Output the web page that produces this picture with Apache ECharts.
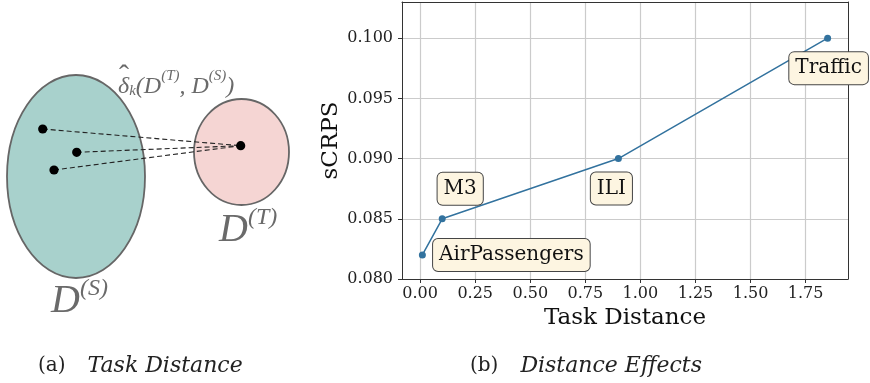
<!DOCTYPE html>
<html>
<head>
<meta charset="utf-8">
<script src="https://cdn.jsdelivr.net/npm/echarts@6/dist/echarts.min.js"></script>
<style>
html,body{margin:0;padding:0;background:#fff;}
#chart{width:870px;height:383px;}
</style>
</head>
<body>
<div id="chart"></div>
<script>
// ---- data ----
const datasets = ['AirPassengers', 'M3', 'ILI', 'Traffic'];
const taskDistance = [0.01, 0.10, 0.90, 1.85];
const scrps = [0.082, 0.085, 0.090, 0.100];
const xTicks = [0.00, 0.25, 0.50, 0.75, 1.00, 1.25, 1.50, 1.75];
const yTicks = [0.080, 0.085, 0.090, 0.095, 0.100];

// ---- layout (label box offsets from point, px) ----
const labelOffsets = [[89, 0], [18, -30], [-7, 30], [1, 30]];

const SERIF = "'DejaVu Serif', serif";
const MATH = "'Liberation Serif', 'DejaVu Serif', serif";
const lineColor = '#32729e';
const gray = '#6a6a6a';

const chart = echarts.init(document.getElementById('chart'), null, {renderer: 'canvas'});

const seriesData = datasets.map((n, i) => ({
  name: n,
  value: [taskDistance[i], scrps[i]],
  label: {
    show: true,
    position: 'inside',
    offset: labelOffsets[i],
    formatter: n,
    fontFamily: SERIF,
    fontSize: 20,
    lineHeight: 20,
    color: '#111',
    backgroundColor: '#fdf5e1',
    borderColor: '#454545',
    borderWidth: 1,
    borderRadius: 5,
    padding: [6, 6, 6, 6]
  }
}));

const pts = [[42.7, 129], [76.7, 152.3], [54, 170]];
const target = [240.7, 145.7];

const graphics = [
  {type: 'ellipse', shape: {cx: 76, cy: 176.5, rx: 69, ry: 101.5},
   style: {fill: '#a8d1cc', stroke: '#666', lineWidth: 1.8}, z: 1},
  {type: 'ellipse', shape: {cx: 241.5, cy: 152, rx: 47.5, ry: 53},
   style: {fill: '#f5d5d3', stroke: '#666', lineWidth: 1.8}, z: 1}
];
pts.forEach(p => {
  graphics.push({type: 'line', shape: {x1: p[0], y1: p[1], x2: target[0], y2: target[1]},
    style: {stroke: '#222', lineWidth: 1.1, lineDash: [5, 3]}, z: 2});
});
pts.concat([target]).forEach(p => {
  graphics.push({type: 'circle', shape: {cx: p[0], cy: p[1], r: 4.6}, style: {fill: '#000'}, z: 3});
});
graphics.push({
  type: 'text', left: 118, top: 69, z: 4,
  style: {
    text: '{a|δ}{sub|k}{a|(D}{sup|(T)}{a|, D}{sup|(S)}{a|)}',
    fill: gray,
    rich: {
      a: {fontFamily: MATH, fontStyle: 'italic', fontSize: 24, fill: gray, lineHeight: 30, verticalAlign: 'bottom'},
      sub: {fontFamily: MATH, fontStyle: 'italic', fontSize: 15, fill: gray, lineHeight: 14, verticalAlign: 'bottom'},
      sup: {fontFamily: MATH, fontStyle: 'italic', fontSize: 15, fill: gray, lineHeight: 18, verticalAlign: 'top'}
    }
  }
});
graphics.push({
  type: 'text', left: 119, top: 62, z: 4,
  style: {text: '\u02C6', fontFamily: MATH, fontSize: 30, fill: gray}
});
graphics.push({
  type: 'text', left: 219, top: 206, z: 4,
  style: {
    text: '{a|D}{sup|(T)}',
    fill: gray,
    rich: {
      a: {fontFamily: MATH, fontStyle: 'italic', fontSize: 40, fill: gray, lineHeight: 44, verticalAlign: 'bottom'},
      sup: {fontFamily: MATH, fontStyle: 'italic', fontSize: 24, fill: gray, lineHeight: 26, verticalAlign: 'top'}
    }
  }
});
graphics.push({
  type: 'text', left: 51, top: 277, z: 4,
  style: {
    text: '{a|D}{sup|(S)}',
    fill: gray,
    rich: {
      a: {fontFamily: MATH, fontStyle: 'italic', fontSize: 40, fill: gray, lineHeight: 44, verticalAlign: 'bottom'},
      sup: {fontFamily: MATH, fontStyle: 'italic', fontSize: 24, fill: gray, lineHeight: 26, verticalAlign: 'top'}
    }
  }
});
const capRich = {
  r: {fontFamily: SERIF, fontSize: 20, fill: '#222', lineHeight: 26, padding: [0, 22, 0, 0]},
  i: {fontFamily: SERIF, fontStyle: 'italic', fontSize: 22, fill: '#222', lineHeight: 26}
};
graphics.push({type: 'text', left: 38, top: 355, z: 4,
  style: {text: '{r|(a)}{i|Task Distance}', rich: capRich}});
graphics.push({type: 'text', left: 470, top: 355, z: 4,
  style: {text: '{r|(b)}{i|Distance Effects}', rich: capRich}});

const axisFont = {fontFamily: SERIF, fontSize: 16, color: '#222'};

chart.setOption({
  animation: false,
  backgroundColor: '#fff',
  grid: {left: 402, top: 2, width: 446, height: 277, containLabel: false},
  xAxis: [{
    type: 'value', min: -0.0825, max: 1.9425,
    axisLine: {show: true, onZero: false, lineStyle: {color: '#333', width: 1}},
    axisTick: {show: true, length: 4, customValues: xTicks, lineStyle: {color: '#333'}},
    axisLabel: Object.assign({margin: 7, customValues: xTicks, formatter: v => v.toFixed(2)}, axisFont),
    splitLine: {show: true, lineStyle: {color: '#cbcbcb', width: 1.2}},
    name: 'Task Distance', nameLocation: 'middle', nameGap: 28, nameMoveOverlap: false,
    nameTextStyle: {fontFamily: SERIF, fontSize: 23, color: '#111'}
  }, {
    type: 'value', position: 'top', min: -0.0825, max: 1.9425,
    axisLine: {show: true, onZero: false, lineStyle: {color: '#333', width: 1}},
    axisTick: {show: false}, axisLabel: {show: false}, splitLine: {show: false}
  }],
  yAxis: [{
    type: 'value', min: 0.080, max: 0.103,
    axisLine: {show: true, onZero: false, lineStyle: {color: '#333', width: 1}},
    axisTick: {show: true, length: 4, customValues: yTicks, lineStyle: {color: '#333'}},
    axisLabel: Object.assign({margin: 9, customValues: yTicks, formatter: v => v.toFixed(3)}, axisFont),
    splitLine: {show: true, lineStyle: {color: '#cbcbcb', width: 1.2}},
    name: 'sCRPS', nameLocation: 'middle', nameGap: 59, nameRotate: 90, nameMoveOverlap: false,
    nameTextStyle: {fontFamily: SERIF, fontSize: 23, color: '#111'}
  }, {
    type: 'value', position: 'right', min: 0.080, max: 0.103,
    axisLine: {show: true, onZero: false, lineStyle: {color: '#333', width: 1}},
    axisTick: {show: false}, axisLabel: {show: false}, splitLine: {show: false}
  }],
  graphic: graphics,
  series: [{
    type: 'line',
    xAxisIndex: 0, yAxisIndex: 0,
    data: seriesData,
    symbol: 'circle', symbolSize: 7,
    lineStyle: {color: lineColor, width: 1.5},
    itemStyle: {color: lineColor},
    emphasis: {disabled: true},
    z: 3
  }]
});
</script>
</body>
</html>
